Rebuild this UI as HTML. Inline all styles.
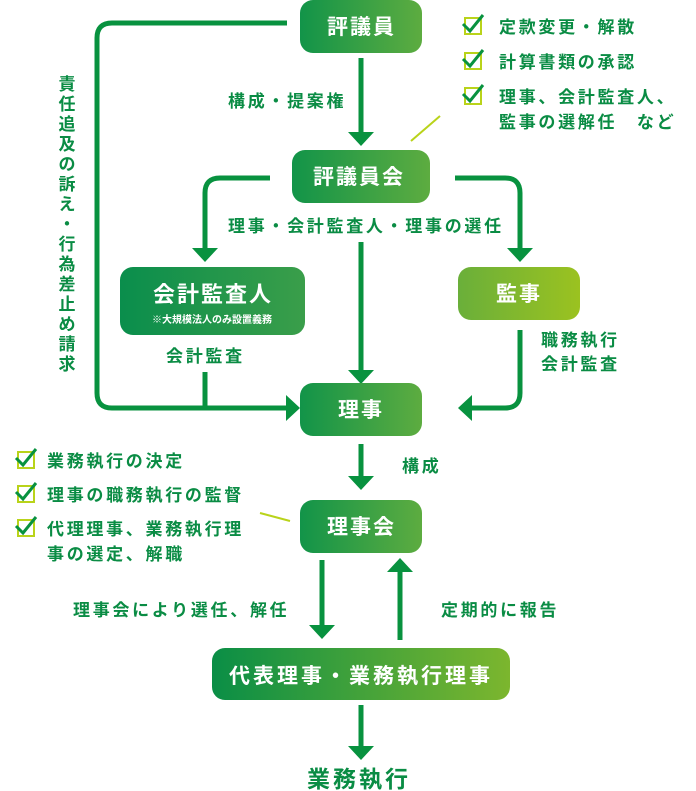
<!DOCTYPE html>
<html><head><meta charset="utf-8"><style>
html,body{margin:0;padding:0;background:#fff;}
svg{display:block;}
text{font-family:"Liberation Sans","Noto Sans CJK JP",sans-serif;font-weight:bold;}
.l{letter-spacing:2.7px;}
</style></head><body>
<svg width="696" height="791" viewBox="0 0 696 791" xmlns="http://www.w3.org/2000/svg">
<defs>
<linearGradient id="g1" x1="0" x2="1" y1="0" y2="0"><stop offset="0" stop-color="#129449"/><stop offset="1" stop-color="#5dac40"/></linearGradient>
<linearGradient id="g2" x1="0" x2="1" y1="0" y2="0"><stop offset="0" stop-color="#0a8e4c"/><stop offset="1" stop-color="#3a9e4a"/></linearGradient>
<linearGradient id="g3" x1="0" x2="1" y1="0" y2="0"><stop offset="0" stop-color="#6aaf3a"/><stop offset="1" stop-color="#9bc220"/></linearGradient>
<linearGradient id="g4" x1="0" x2="1" y1="0" y2="0"><stop offset="0" stop-color="#0a8e46"/><stop offset="1" stop-color="#7cb62e"/></linearGradient>
</defs>
<g fill="none" stroke="#08923f" stroke-width="5">
<path d="M287 23 H112 Q97 23 97 38 V393 Q97 408 112 408 H288"/>
<path d="M270 178 H220 Q205 178 205 193 V250"/>
<path d="M455 178 H505 Q520 178 520 193 V250"/>
<path d="M361 58 V134"/>
<path d="M361 242 V372"/>
<path d="M205 372 V408"/>
<path d="M520 330 V393 Q520 408 505 408 H470"/>
<path d="M361 444 V478"/>
<path d="M322 560 V627"/>
<path d="M400 640 V572"/>
<path d="M361 705 V748"/>
</g>
<g fill="#08923f">
<polygon points="348,132 374,132 361,146"/>
<polygon points="192,248 218,248 205,262"/>
<polygon points="507,248 533,248 520,262"/>
<polygon points="348,370 374,370 361,384"/>
<polygon points="286,395 286,421 300,408"/>
<polygon points="472,395 472,421 458,408"/>
<polygon points="348,476 374,476 361,490"/>
<polygon points="309,625 335,625 322,639"/>
<polygon points="387,572 413,572 400,558"/>
<polygon points="348,746 374,746 361,760"/>
</g>
<g stroke="#b9d31a" stroke-width="2"><line x1="411" y1="141" x2="440" y2="116"/><line x1="260" y1="513" x2="290" y2="521"/></g>
<rect x="300" y="0" width="122" height="53" rx="13" fill="url(#g1)"/>
<rect x="292" y="150" width="138" height="53" rx="13" fill="url(#g1)"/>
<rect x="120" y="267" width="185" height="68" rx="13" fill="url(#g2)"/>
<rect x="458" y="267" width="122" height="53" rx="13" fill="url(#g3)"/>
<rect x="300" y="383" width="122" height="53" rx="13" fill="url(#g1)"/>
<rect x="300" y="500" width="122" height="53" rx="13" fill="url(#g1)"/>
<rect x="212" y="648" width="298" height="52" rx="13" fill="url(#g4)"/>
<g fill="#fff">
<text x="327" y="34" font-size="21" letter-spacing="2">評議員</text>
<text x="313" y="184" font-size="21" letter-spacing="2">評議員会</text>
<text x="153" y="302" font-size="22" letter-spacing="2">会計監査人</text>
<text x="212" y="323" font-size="10" text-anchor="middle">※大規模法人のみ設置義務</text>
<text x="496" y="301" font-size="21" letter-spacing="2">監事</text>
<text x="338" y="417" font-size="21" letter-spacing="2">理事</text>
<text x="327" y="534" font-size="21" letter-spacing="2">理事会</text>
<text x="229" y="683" font-size="21" letter-spacing="3">代表理事・業務執行理事</text>
</g>
<g fill="#0a8c44" font-size="17" class="l">
<text x="228" y="107">構成・提案権</text>
<text x="228" y="232">理事・会計監査人・理事の選任</text>
<text x="166" y="362">会計監査</text>
<text x="541" y="346">職務執行</text>
<text x="541" y="370">会計監査</text>
<text x="402" y="472">構成</text>
<text x="73" y="616">理事会により選任、解任</text>
<text x="441" y="616">定期的に報告</text>
<text x="307" y="787" font-size="23" letter-spacing="3">業務執行</text>
<text x="499" y="33">定款変更・解散</text>
<text x="499" y="68">計算書類の承認</text>
<text x="499" y="103">理事、会計監査人、</text>
<text x="499" y="128">監事の選解任　など</text>
<text x="47" y="467">業務執行の決定</text>
<text x="47" y="501">理事の職務執行の監督</text>
<text x="47" y="535">代理理事、業務執行理</text>
<text x="47" y="560">事の選定、解職</text>
</g>
<g fill="#0a8c44" font-size="17" text-anchor="middle">
<text x="67" y="90">責</text><text x="67" y="110">任</text><text x="67" y="130">追</text><text x="67" y="150">及</text><text x="67" y="170">の</text><text x="67" y="190">訴</text><text x="67" y="210">え</text><text x="67" y="230">・</text><text x="67" y="250">行</text><text x="67" y="270">為</text><text x="67" y="290">差</text><text x="67" y="310">止</text><text x="67" y="330">め</text><text x="67" y="350">請</text><text x="67" y="370">求</text>
</g>
<g id="cb">
<rect x="465" y="18" width="16" height="16" fill="none" stroke="#b9d31a" stroke-width="2"/>
<path d="M463 24 L470 31 L483 15" fill="none" stroke="#08923f" stroke-width="3"/>
</g>
<use href="#cb" transform="translate(0,35)"/>
<use href="#cb" transform="translate(0,70)"/>
<use href="#cb" transform="translate(-447,434)"/>
<use href="#cb" transform="translate(-447,468)"/>
<use href="#cb" transform="translate(-447,502)"/>
</svg>
</body></html>
